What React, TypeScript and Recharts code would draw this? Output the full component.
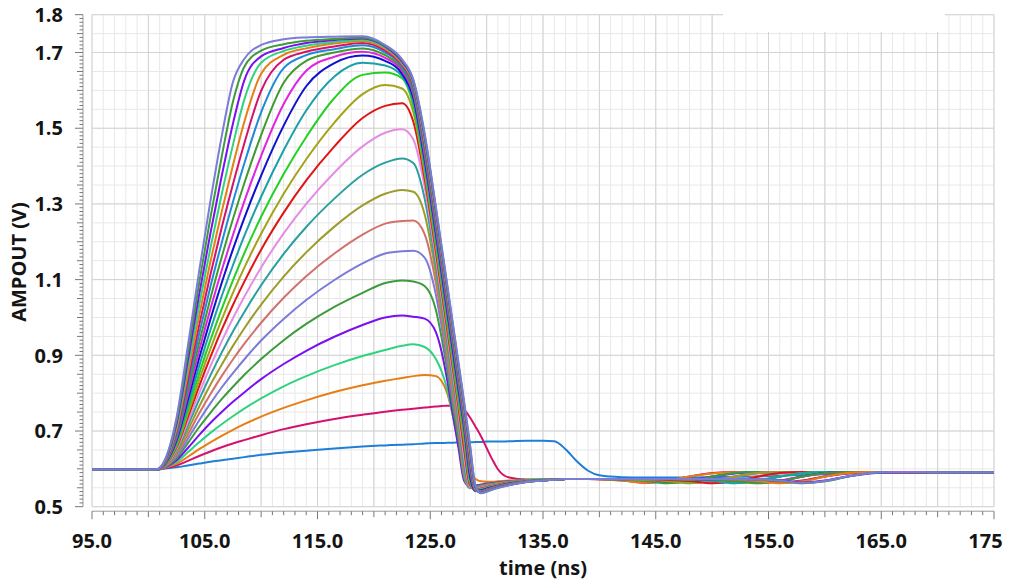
import React from 'react';
import { LineChart, Line, XAxis, YAxis, CartesianGrid } from 'recharts';

// time axis (ns) shared by all traces
const TIME_NS = [
  95, 100.7, 101.5, 102.5, 103.5, 104.5, 105.5, 106.5, 107.5, 108.5,
  110, 112, 114, 116.5, 119, 121, 122.5, 123.5, 124.5, 125.5,
  126, 126.5, 127, 127.5, 128, 128.5, 129, 129.5, 130, 130.5,
  131, 132, 133.5, 135, 136, 137, 138, 139, 140, 142,
  144, 146, 148, 150, 152, 154, 156, 158, 160, 162,
  164, 166, 170, 175,
];

// AMPOUT (V) traces, slowest (lowest) to fastest (highest)
const S01 = [0.598, 0.598, 0.601, 0.604, 0.609, 0.614, 0.619, 0.623, 0.627, 0.631,
  0.637, 0.643, 0.648, 0.654, 0.659, 0.662, 0.664, 0.665, 0.667, 0.668,
  0.668, 0.669, 0.669, 0.670, 0.670, 0.670, 0.671, 0.671, 0.672, 0.672,
  0.672, 0.673, 0.674, 0.674, 0.673, 0.652, 0.620, 0.595, 0.583, 0.578,
  0.577, 0.577, 0.577, 0.578, 0.579, 0.580, 0.582, 0.584, 0.586, 0.588,
  0.590, 0.591, 0.591, 0.591];
const S02 = [0.598, 0.598, 0.602, 0.609, 0.621, 0.634, 0.646, 0.657, 0.667, 0.676,
  0.689, 0.705, 0.718, 0.732, 0.743, 0.751, 0.756, 0.759, 0.762, 0.765,
  0.766, 0.767, 0.767, 0.765, 0.756, 0.737, 0.712, 0.686, 0.655, 0.625,
  0.599, 0.577, 0.572, 0.572, 0.572, 0.573, 0.573, 0.573, 0.572, 0.569,
  0.563, 0.568, 0.580, 0.589, 0.592, 0.591, 0.591, 0.591, 0.591, 0.591,
  0.591, 0.591, 0.591, 0.591];
const S03 = [0.598, 0.598, 0.603, 0.613, 0.632, 0.652, 0.670, 0.687, 0.703, 0.718,
  0.738, 0.761, 0.781, 0.803, 0.821, 0.833, 0.840, 0.845, 0.848, 0.845,
  0.832, 0.800, 0.742, 0.680, 0.622, 0.590, 0.574, 0.567, 0.566, 0.566,
  0.567, 0.569, 0.571, 0.572, 0.572, 0.573, 0.573, 0.573, 0.572, 0.569,
  0.564, 0.569, 0.580, 0.588, 0.591, 0.591, 0.591, 0.591, 0.591, 0.591,
  0.591, 0.591, 0.591, 0.591];
const S04 = [0.598, 0.598, 0.604, 0.618, 0.644, 0.670, 0.695, 0.718, 0.739, 0.759,
  0.786, 0.818, 0.845, 0.874, 0.898, 0.914, 0.925, 0.929, 0.922, 0.890,
  0.858, 0.810, 0.740, 0.665, 0.588, 0.558, 0.555, 0.556, 0.558, 0.561,
  0.563, 0.567, 0.571, 0.573, 0.573, 0.573, 0.573, 0.573, 0.573, 0.572,
  0.569, 0.563, 0.568, 0.580, 0.589, 0.592, 0.591, 0.591, 0.591, 0.591,
  0.591, 0.591, 0.591, 0.591];
const S05 = [0.598, 0.598, 0.604, 0.623, 0.655, 0.689, 0.721, 0.750, 0.777, 0.802,
  0.837, 0.877, 0.912, 0.949, 0.980, 1.000, 1.005, 1.002, 0.997, 0.961,
  0.910, 0.835, 0.744, 0.656, 0.569, 0.554, 0.556, 0.5585, 0.561, 0.5625,
  0.564, 0.567, 0.570, 0.5715, 0.572, 0.573, 0.573, 0.573, 0.573, 0.572,
  0.570, 0.564, 0.569, 0.580, 0.588, 0.591, 0.591, 0.591, 0.591, 0.591,
  0.591, 0.591, 0.591, 0.591];
const S06 = [0.598, 0.598, 0.605, 0.628, 0.668, 0.710, 0.748, 0.784, 0.817, 0.848,
  0.890, 0.940, 0.983, 1.028, 1.065, 1.091, 1.098, 1.095, 1.083, 1.020,
  0.948, 0.861, 0.764, 0.678, 0.576, 0.551, 0.5535, 0.5567, 0.5594, 0.5613,
  0.5634, 0.5665, 0.5697, 0.5713, 0.572, 0.573, 0.573, 0.573, 0.573, 0.572,
  0.568, 0.562, 0.567, 0.579, 0.589, 0.592, 0.591, 0.591, 0.591, 0.591,
  0.591, 0.591, 0.591, 0.591];
const S07 = [0.598, 0.598, 0.606, 0.633, 0.679, 0.728, 0.773, 0.815, 0.853, 0.889,
  0.939, 0.996, 1.046, 1.099, 1.143, 1.169, 1.175, 1.176, 1.158, 1.060,
  0.977, 0.882, 0.784, 0.700, 0.583, 0.549, 0.551, 0.5548, 0.5577, 0.560,
  0.5623, 0.5658, 0.5695, 0.5713, 0.572, 0.573, 0.573, 0.573, 0.573, 0.573,
  0.572, 0.569, 0.563, 0.568, 0.580, 0.589, 0.592, 0.591, 0.591, 0.591,
  0.591, 0.591, 0.591, 0.591];
const S08 = [0.598, 0.598, 0.607, 0.638, 0.690, 0.746, 0.797, 0.845, 0.889, 0.930,
  0.986, 1.052, 1.109, 1.169, 1.219, 1.248, 1.255, 1.256, 1.220, 1.091,
  1.000, 0.902, 0.801, 0.705, 0.591, 0.550, 0.550, 0.5535, 0.5566, 0.5593,
  0.5617, 0.5653, 0.5691, 0.5712, 0.572, 0.573, 0.573, 0.573, 0.573, 0.573,
  0.572, 0.570, 0.564, 0.569, 0.580, 0.588, 0.591, 0.591, 0.591, 0.591,
  0.591, 0.591, 0.591, 0.591];
const S09 = [0.598, 0.598, 0.608, 0.643, 0.702, 0.764, 0.822, 0.875, 0.925, 0.971,
  1.034, 1.108, 1.172, 1.240, 1.296, 1.327, 1.337, 1.332, 1.273, 1.115,
  1.018, 0.919, 0.818, 0.720, 0.600, 0.551, 0.549, 0.552, 0.5555, 0.5583,
  0.561, 0.5648, 0.5688, 0.5711, 0.572, 0.573, 0.573, 0.573, 0.573, 0.573,
  0.571, 0.568, 0.562, 0.567, 0.579, 0.589, 0.592, 0.591, 0.591, 0.591,
  0.591, 0.591, 0.591, 0.591];
const S10 = [0.598, 0.598, 0.609, 0.648, 0.714, 0.783, 0.847, 0.907, 0.963, 1.014,
  1.085, 1.168, 1.239, 1.314, 1.377, 1.409, 1.420, 1.408, 1.315, 1.137,
  1.038, 0.937, 0.835, 0.733, 0.610, 0.553, 0.5473, 0.5512, 0.5543, 0.5577,
  0.560, 0.5642, 0.5686, 0.571, 0.572, 0.573, 0.573, 0.573, 0.573, 0.573,
  0.573, 0.572, 0.569, 0.563, 0.568, 0.580, 0.589, 0.592, 0.591, 0.591,
  0.591, 0.591, 0.591, 0.591];
const S11 = [0.598, 0.598, 0.610, 0.652, 0.724, 0.800, 0.871, 0.937, 0.998, 1.054,
  1.132, 1.222, 1.300, 1.383, 1.452, 1.488, 1.497, 1.470, 1.345, 1.156,
  1.055, 0.954, 0.852, 0.750, 0.632, 0.554, 0.5458, 0.5499, 0.5534, 0.5566,
  0.5593, 0.5636, 0.5682, 0.5707, 0.5716, 0.573, 0.573, 0.573, 0.573, 0.573,
  0.573, 0.572, 0.570, 0.564, 0.569, 0.580, 0.588, 0.591, 0.591, 0.591,
  0.591, 0.591, 0.591, 0.591];
const S12 = [0.598, 0.598, 0.611, 0.657, 0.736, 0.818, 0.895, 0.967, 1.033, 1.094,
  1.179, 1.277, 1.362, 1.452, 1.527, 1.559, 1.566, 1.517, 1.367, 1.173,
  1.071, 0.969, 0.867, 0.764, 0.653, 0.559, 0.5448, 0.5482, 0.5518, 0.5555,
  0.5583, 0.563, 0.5681, 0.5707, 0.5716, 0.573, 0.573, 0.573, 0.573, 0.573,
  0.573, 0.571, 0.568, 0.562, 0.567, 0.579, 0.589, 0.592, 0.591, 0.591,
  0.591, 0.591, 0.591, 0.591];
const S13 = [0.598, 0.598, 0.612, 0.661, 0.745, 0.834, 0.917, 0.994, 1.065, 1.131,
  1.221, 1.327, 1.418, 1.515, 1.590, 1.614, 1.605, 1.542, 1.382, 1.187,
  1.085, 0.983, 0.880, 0.777, 0.672, 0.5655, 0.5436, 0.5468, 0.5508, 0.5546,
  0.5575, 0.5627, 0.5677, 0.5705, 0.5716, 0.573, 0.573, 0.573, 0.573, 0.573,
  0.573, 0.573, 0.572, 0.569, 0.563, 0.568, 0.580, 0.589, 0.592, 0.591,
  0.591, 0.591, 0.591, 0.591];
const S14 = [0.598, 0.598, 0.613, 0.665, 0.756, 0.851, 0.940, 1.022, 1.098, 1.169,
  1.266, 1.379, 1.477, 1.580, 1.641, 1.647, 1.632, 1.559, 1.397, 1.200,
  1.098, 0.996, 0.893, 0.790, 0.691, 0.572, 0.542, 0.5453, 0.5498, 0.5537,
  0.5567, 0.5621, 0.5675, 0.5703, 0.5715, 0.573, 0.573, 0.573, 0.573, 0.573,
  0.573, 0.573, 0.572, 0.570, 0.564, 0.569, 0.580, 0.588, 0.591, 0.591,
  0.591, 0.591, 0.591, 0.591];
const S15 = [0.598, 0.598, 0.614, 0.671, 0.768, 0.871, 0.967, 1.056, 1.138, 1.215,
  1.319, 1.442, 1.547, 1.637, 1.673, 1.666, 1.638, 1.571, 1.405, 1.210,
  1.108, 1.006, 0.903, 0.800, 0.700, 0.577, 0.541, 0.544, 0.5488, 0.5528,
  0.5559, 0.5618, 0.5673, 0.5703, 0.5715, 0.573, 0.573, 0.573, 0.573, 0.573,
  0.573, 0.573, 0.572, 0.568, 0.562, 0.567, 0.579, 0.589, 0.592, 0.591,
  0.591, 0.591, 0.591, 0.591];
const S16 = [0.598, 0.598, 0.615, 0.676, 0.782, 0.892, 0.995, 1.091, 1.180, 1.262,
  1.375, 1.507, 1.611, 1.672, 1.692, 1.678, 1.644, 1.580, 1.418, 1.223,
  1.121, 1.019, 0.916, 0.813, 0.712, 0.587, 0.542, 0.5426, 0.5474, 0.5515,
  0.555, 0.5611, 0.5669, 0.570, 0.5713, 0.573, 0.573, 0.573, 0.573, 0.573,
  0.573, 0.573, 0.573, 0.572, 0.569, 0.563, 0.568, 0.580, 0.589, 0.592,
  0.591, 0.591, 0.591, 0.591];
const S17 = [0.598, 0.598, 0.616, 0.681, 0.794, 0.912, 1.022, 1.124, 1.218, 1.306,
  1.427, 1.564, 1.652, 1.689, 1.702, 1.686, 1.652, 1.590, 1.428, 1.233,
  1.131, 1.029, 0.926, 0.823, 0.719, 0.596, 0.543, 0.5413, 0.5459, 0.5506,
  0.5542, 0.5605, 0.5667, 0.570, 0.5713, 0.573, 0.573, 0.573, 0.573, 0.573,
  0.573, 0.573, 0.573, 0.572, 0.570, 0.564, 0.569, 0.580, 0.588, 0.591,
  0.591, 0.591, 0.591, 0.591];
const S18 = [0.598, 0.598, 0.617, 0.687, 0.807, 0.933, 1.050, 1.159, 1.260, 1.354,
  1.482, 1.620, 1.678, 1.700, 1.711, 1.693, 1.658, 1.598, 1.439, 1.244,
  1.142, 1.040, 0.937, 0.834, 0.730, 0.606, 0.544, 0.540, 0.5448, 0.5496,
  0.5533, 0.5598, 0.5666, 0.570, 0.5712, 0.573, 0.573, 0.573, 0.573, 0.573,
  0.573, 0.573, 0.573, 0.572, 0.568, 0.562, 0.567, 0.579, 0.589, 0.592,
  0.591, 0.591, 0.591, 0.591];
const S19 = [0.598, 0.598, 0.618, 0.692, 0.821, 0.956, 1.081, 1.197, 1.305, 1.406,
  1.542, 1.659, 1.693, 1.709, 1.719, 1.700, 1.663, 1.605, 1.447, 1.252,
  1.150, 1.048, 0.945, 0.842, 0.738, 0.613, 0.545, 0.5397, 0.5445, 0.5489,
  0.5533, 0.5594, 0.5662, 0.5698, 0.5712, 0.573, 0.573, 0.573, 0.573, 0.573,
  0.573, 0.573, 0.573, 0.573, 0.572, 0.569, 0.563, 0.568, 0.580, 0.589,
  0.592, 0.591, 0.591, 0.591];
const S20 = [0.598, 0.598, 0.619, 0.699, 0.835, 0.979, 1.113, 1.237, 1.352, 1.459,
  1.599, 1.681, 1.702, 1.716, 1.725, 1.705, 1.667, 1.612, 1.456, 1.261,
  1.159, 1.057, 0.954, 0.851, 0.747, 0.625, 0.545, 0.5384, 0.543, 0.5478,
  0.5524, 0.559, 0.566, 0.5697, 0.5711, 0.573, 0.573, 0.573, 0.573, 0.573,
  0.573, 0.573, 0.573, 0.573, 0.572, 0.570, 0.564, 0.569, 0.580, 0.588,
  0.591, 0.591, 0.591, 0.591];
const S21 = [0.598, 0.598, 0.620, 0.705, 0.851, 1.004, 1.147, 1.279, 1.402, 1.516,
  1.644, 1.694, 1.711, 1.724, 1.730, 1.710, 1.670, 1.617, 1.464, 1.269,
  1.167, 1.065, 0.962, 0.859, 0.755, 0.638, 0.547, 0.538, 0.5426, 0.5475,
  0.552, 0.5587, 0.566, 0.5697, 0.5711, 0.573, 0.573, 0.573, 0.573, 0.573,
  0.573, 0.573, 0.573, 0.573, 0.572, 0.568, 0.562, 0.567, 0.579, 0.589,
  0.592, 0.591, 0.591, 0.591];
const S22 = [0.598, 0.598, 0.622, 0.712, 0.868, 1.031, 1.183, 1.325, 1.456, 1.575,
  1.673, 1.704, 1.718, 1.728, 1.734, 1.713, 1.674, 1.621, 1.470, 1.275,
  1.173, 1.071, 0.968, 0.865, 0.761, 0.647, 0.5485, 0.537, 0.5414, 0.5464,
  0.5511, 0.558, 0.5655, 0.5695, 0.571, 0.573, 0.573, 0.573, 0.573, 0.573,
  0.573, 0.573, 0.573, 0.573, 0.573, 0.572, 0.569, 0.563, 0.568, 0.580,
  0.589, 0.592, 0.591, 0.591];
const S23 = [0.598, 0.598, 0.623, 0.720, 0.886, 1.060, 1.222, 1.373, 1.512, 1.626,
  1.690, 1.712, 1.725, 1.733, 1.737, 1.716, 1.676, 1.624, 1.477, 1.282,
  1.180, 1.078, 0.975, 0.872, 0.768, 0.656, 0.552, 0.537, 0.541, 0.5464,
  0.5508, 0.5576, 0.5655, 0.5695, 0.571, 0.573, 0.573, 0.573, 0.573, 0.573,
  0.573, 0.573, 0.573, 0.573, 0.573, 0.572, 0.570, 0.564, 0.569, 0.580,
  0.588, 0.591, 0.591, 0.591];
const S24 = [0.598, 0.598, 0.624, 0.728, 0.904, 1.090, 1.263, 1.424, 1.570, 1.662,
  1.705, 1.722, 1.731, 1.736, 1.739, 1.718, 1.680, 1.627, 1.483, 1.288,
  1.186, 1.084, 0.981, 0.878, 0.774, 0.666, 0.555, 0.5357, 0.5398, 0.5454,
  0.5498, 0.5572, 0.5653, 0.5695, 0.571, 0.573, 0.573, 0.573, 0.573, 0.573,
  0.573, 0.573, 0.573, 0.573, 0.573, 0.572, 0.568, 0.562, 0.567, 0.579,
  0.589, 0.592, 0.591, 0.591];
const S25 = [0.598, 0.598, 0.626, 0.736, 0.924, 1.122, 1.307, 1.478, 1.622, 1.683,
  1.720, 1.735, 1.740, 1.742, 1.743, 1.720, 1.682, 1.628, 1.487, 1.292,
  1.190, 1.088, 0.985, 0.882, 0.778, 0.672, 0.5575, 0.5357, 0.5398, 0.545,
  0.5498, 0.5568, 0.5653, 0.5695, 0.571, 0.573, 0.573, 0.573, 0.573, 0.573,
  0.573, 0.573, 0.573, 0.573, 0.573, 0.572, 0.569, 0.563, 0.568, 0.580,
  0.589, 0.592, 0.591, 0.591];

const SERIES = [S01, S02, S03, S04, S05, S06, S07, S08, S09, S10, S11, S12, S13,
  S14, S15, S16, S17, S18, S19, S20, S21, S22, S23, S24, S25];

const SERIES_COLORS = [
  '#1f7fd6', '#d4126e', '#e87d14', '#2fd37f', '#7a10f0', '#3d9a3d', '#7b7bd8',
  '#d2706c', '#9c9c2c', '#2b9e9e', '#e58ce5', '#e01414', '#a3a31a', '#25d025',
  '#1aa0a8', '#1010d0', '#e024e0', '#3f9a30', '#1f8ad8', '#d4126e', '#e87d14',
  '#2fd37f', '#7a10f0', '#3d9a3d', '#7b7bd8',
];

const X_LABEL_TICKS = [95, 105, 115, 125, 135, 145, 155, 165, 175];
const Y_LABEL_TICKS = [0.5, 0.7, 0.9, 1.1, 1.3, 1.5, 1.7, 1.8];

const X_DOMAIN = [95, 175];
const Y_DOMAIN = [0.5, 1.8];

// axis tick positions (every 1 ns, every 0.01 V) and grid levels (every 0.05 V)
const X_TICKS = Array.from({ length: 81 }, (_, i) => 95 + i);
const Y_TICKS = Array.from({ length: 131 }, (_, i) => (50 + i) / 100);
const Y_GRID_MINOR = Array.from({ length: 27 }, (_, i) => (50 + 5 * i) / 100);
const X_GRID_MAJOR = X_TICKS.filter((v) => v % 5 === 0);

const rows = TIME_NS.map((t, i) => {
  const r: Record<string, number> = { t };
  SERIES.forEach((s, k) => {
    r['s' + (k + 1)] = s[i];
  });
  return r;
});

const FONT = "'Open Sans', 'Noto Sans', 'DejaVu Sans', sans-serif";
const X_STEP = 902 / 80;
const Y_STEP = 492 / 130;

function XTick(props: any) {
  const { x, y, payload } = props;
  const v = Math.round(payload.value);
  const ay = y + 4.5;
  const isLabel = X_LABEL_TICKS.includes(v);
  const len = isLabel ? 8 : v % 5 === 0 ? 6 : 4;
  return (
    <g>
      {v < 175 && <line x1={x} x2={x + X_STEP} y1={ay} y2={ay} stroke="#9a9a9a" strokeWidth={1} />}
      <line x1={x} x2={x} y1={ay} y2={ay + len} stroke="#777" strokeWidth={1} />
      {isLabel && (
        <text x={x} y={ay + 37} textAnchor="middle" fontFamily={FONT} fontWeight={700} fontSize={20} fill="#141414">
          {v.toFixed(1)}
        </text>
      )}
    </g>
  );
}

function YTick(props: any) {
  const { x, y, payload } = props;
  const c = Math.round(payload.value * 100);
  const ax = x - 9;
  const isLabel = Y_LABEL_TICKS.some((l) => Math.round(l * 100) === c);
  const len = isLabel ? 8 : c % 5 === 0 ? 6 : 3.5;
  return (
    <g>
      {c < 180 && <line x1={ax} x2={ax} y1={y} y2={y - Y_STEP} stroke="#9a9a9a" strokeWidth={1} />}
      <line x1={ax - len} x2={ax} y1={y} y2={y} stroke="#777" strokeWidth={1} />
      {isLabel && (
        <text x={ax - 20} y={y} dy="0.36em" textAnchor="end" fontFamily={FONT} fontWeight={700} fontSize={20} fill="#141414">
          {(c / 100).toFixed(1)}
        </text>
      )}
    </g>
  );
}

function scaleOf(axis: any) {
  if (axis && typeof axis.scale === 'function') return axis.scale;
  return null;
}

const vGen = (vals: number[]) => (p: any) => {
  const sc = scaleOf(p && p.xAxis);
  if (sc) return vals.map((v) => sc(v));
  const o = p.offset;
  return vals.map((v) => o.left + ((v - 95) / 80) * o.width);
};
const hGen = (vals: number[]) => (p: any) => {
  const sc = scaleOf(p && p.yAxis);
  if (sc) return vals.map((v) => sc(v));
  const o = p.offset;
  return vals.map((v) => o.top + ((1.8 - v) / 1.3) * o.height);
};

export default function App() {
  return (
    <div style={{ position: 'fixed', left: 0, top: 0, width: 1010, height: 581, overflow: 'hidden', background: '#fff' }}>
      <div style={{ position: 'absolute', left: 8, top: 8, width: 995, height: 573, overflow: 'hidden' }}>
        <LineChart width={995} height={573} data={rows} margin={{ top: 6.7, right: 9, bottom: 0, left: 0 }}>
          <CartesianGrid
            stroke="#e8e8e8"
            strokeWidth={1}
            verticalCoordinatesGenerator={vGen(X_TICKS)}
            horizontalCoordinatesGenerator={hGen(Y_GRID_MINOR)}
          />
          <CartesianGrid
            stroke="#d3d3d3"
            strokeWidth={1}
            verticalCoordinatesGenerator={vGen(X_GRID_MAJOR)}
            horizontalCoordinatesGenerator={hGen(Y_LABEL_TICKS)}
          />
          <XAxis
            dataKey="t"
            type="number"
            domain={X_DOMAIN}
            ticks={X_TICKS}
            interval={0}
            height={74.3}
            axisLine={false}
            tickLine={false}
            tickSize={0}
            tickMargin={0}
            tick={<XTick />}
          />
          <YAxis
            type="number"
            domain={Y_DOMAIN}
            ticks={Y_TICKS}
            interval={0}
            width={84}
            axisLine={false}
            tickLine={false}
            tickSize={0}
            tickMargin={0}
            tick={<YTick />}
          />
          {SERIES.map((_, k) => (
            <Line
              key={k}
              dataKey={'s' + (k + 1)}
              type="monotone"
              stroke={SERIES_COLORS[k]}
              strokeWidth={2}
              dot={false}
              activeDot={false}
              isAnimationActive={false}
            />
          ))}
        </LineChart>
      </div>
      <svg width={1010} height={581} style={{ position: 'absolute', left: 0, top: 0, pointerEvents: 'none' }}>
        <rect x={723} y={0} width={222} height={32} fill="#ffffff" />
        <text x={543} y={575} textAnchor="middle" fontFamily={FONT} fontWeight={700} fontSize={20} fill="#141414">
          time (ns)
        </text>
        <text
          transform="translate(18.5,262) rotate(-90)"
          textAnchor="middle"
          dominantBaseline="central"
          fontFamily={FONT}
          fontWeight={700}
          fontSize={20}
          fill="#141414"
        >
          AMPOUT (V)
        </text>
      </svg>
    </div>
  );
}
